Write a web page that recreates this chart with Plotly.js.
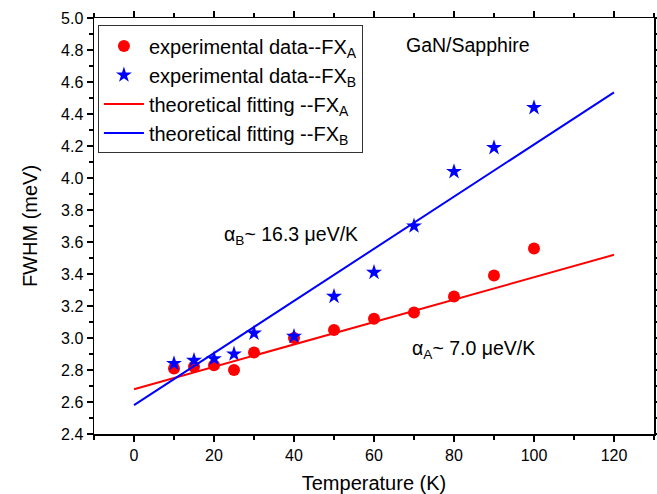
<!DOCTYPE html>
<html>
<head>
<meta charset="utf-8">
<script src="https://cdn.plot.ly/plotly-3.0.1.min.js"></script>
<style>html,body{margin:0;padding:0;background:#fff;}#chart{width:657px;height:494px;}</style>
</head>
<body>
<div id="chart"></div>
<script>
// Data
const temperature = [10, 15, 20, 25, 30, 40, 50, 60, 70, 80, 90, 100];
const fwhmA = [2.81, 2.82, 2.83, 2.80, 2.91, 3.00, 3.05, 3.12, 3.16, 3.26, 3.39, 3.56];
const fwhmB = [2.84, 2.86, 2.87, 2.90, 3.03, 3.01, 3.26, 3.41, 3.70, 4.04, 4.19, 4.44];
const fitT = [0, 120];
const fitA = [2.68, 3.52];
const fitB = [2.58, 4.535];

const FONT = 'Liberation Sans, Arial, sans-serif';

const traces = [
  {x: temperature, y: fwhmA, mode: 'markers', type: 'scatter',
   name: 'experimental data--FX<sub>A</sub>',
   marker: {symbol: 'circle', size: 12, color: '#ff0000'}},
  {x: temperature, y: fwhmB, mode: 'markers', type: 'scatter',
   name: 'experimental data--FX<sub>B</sub>',
   marker: {symbol: 'star', size: 12, color: '#0000ff'}},
  {x: fitT, y: fitA, mode: 'lines', type: 'scatter',
   name: 'theoretical fitting --FX<sub>A</sub>',
   line: {color: '#ff0000', width: 2}},
  {x: fitT, y: fitB, mode: 'lines', type: 'scatter',
   name: 'theoretical fitting --FX<sub>B</sub>',
   line: {color: '#0000ff', width: 2}}
];

const axisCommon = {
  showgrid: false, zeroline: false, showline: true, linecolor: '#000', linewidth: 1.5,
  mirror: 'allticks', ticks: 'outside', ticklen: 6, tickwidth: 1.5, tickcolor: '#000',
  tickfont: {family: FONT, size: 16, color: '#000'},
  minor: {ticks: 'outside', ticklen: 4, tickwidth: 1.2, tickcolor: '#000'}
};

const layout = {
  width: 657, height: 494,
  margin: {l: 94, r: 3, t: 18, b: 60},
  paper_bgcolor: '#fff', plot_bgcolor: '#fff',
  font: {family: FONT, size: 16, color: '#000'},
  showlegend: true,
  xaxis: Object.assign({}, axisCommon, {
    range: [-10, 130], tickmode: 'linear', tick0: 0, dtick: 20,
    minor: Object.assign({}, axisCommon.minor, {dtick: 10}),
    title: {text: 'Temperature (K)', font: {family: FONT, size: 20}, standoff: 13}
  }),
  yaxis: Object.assign({}, axisCommon, {
    range: [2.4, 5.0], tickmode: 'linear', tick0: 2.4, dtick: 0.2, tickformat: '.1f',
    minor: Object.assign({}, axisCommon.minor, {dtick: 0.1}),
    title: {text: 'FWHM (meV)', font: {family: FONT, size: 20}, standoff: 18}
  }),
  legend: {
    x: 0.007, y: 0.982, xanchor: 'left', yanchor: 'top',
    bgcolor: '#fff', bordercolor: '#333', borderwidth: 1,
    font: {family: FONT, size: 20, color: '#000'},
    itemwidth: 40, tracegroupgap: 0
  },
  annotations: [
    {x: 67.5, y: 4.83, xanchor: 'left', yanchor: 'middle', showarrow: false,
     text: 'GaN/Sapphire', font: {family: FONT, size: 19.5}},
    {x: 22, y: 3.64, xanchor: 'left', yanchor: 'middle', showarrow: false,
     text: 'α<sub>B</sub>~ 16.3 μeV/K', font: {family: FONT, size: 19.5}},
    {x: 69, y: 2.93, xanchor: 'left', yanchor: 'middle', showarrow: false,
     text: 'α<sub>A</sub>~ 7.0 μeV/K', font: {family: FONT, size: 19.5}}
  ]
};

Plotly.newPlot('chart', traces, layout, {displayModeBar: false, staticPlot: true});
</script>
</body>
</html>
